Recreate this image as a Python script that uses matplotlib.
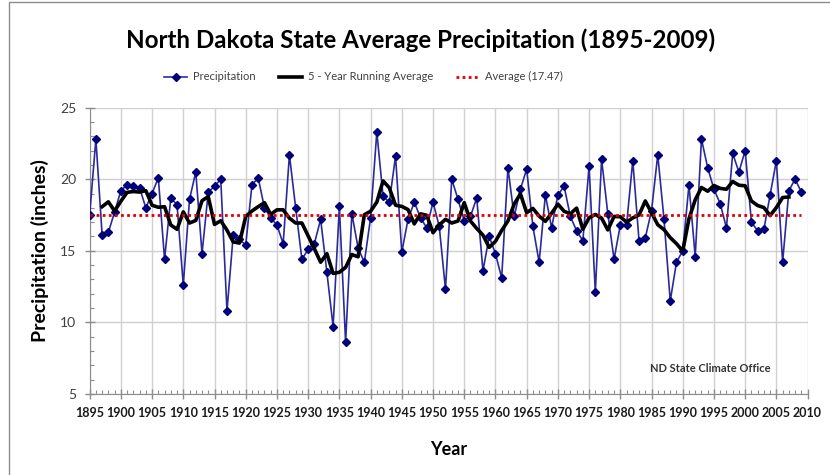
import numpy as np
import pandas as pd
import matplotlib
matplotlib.use('Agg')
import matplotlib.pyplot as plt
from matplotlib.ticker import MultipleLocator
from matplotlib.patches import Rectangle

plt.rcParams['font.family'] = ['Lato', 'DejaVu Sans']

# Annual precipitation (inches)
years = list(range(1895, 2010))
precip = [
    17.5, 22.8, 16.1, 16.3, 17.7, 19.2, 19.6, 19.5, 19.4, 18.0,   # 1895-1904
    19.0, 20.1, 14.4, 18.7, 18.2, 12.6, 18.6, 20.5, 14.8, 19.1,   # 1905-1914
    19.5, 20.0, 10.8, 16.1, 15.8, 15.4, 19.6, 20.1, 18.0, 17.3,   # 1915-1924
    16.8, 15.5, 21.7, 18.0, 14.4, 15.1, 15.5, 17.2, 13.5, 9.7,    # 1925-1934
    18.1, 8.6, 17.6, 15.2, 14.2, 17.3, 23.3, 18.8, 18.4, 21.6,    # 1935-1944
    14.9, 17.2, 18.4, 17.3, 16.6, 18.4, 16.7, 12.3, 20.0, 18.6,   # 1945-1954
    17.1, 17.4, 18.7, 13.6, 16.0, 14.8, 13.1, 20.8, 17.4, 19.3,   # 1955-1964
    20.7, 16.7, 14.2, 18.9, 16.6, 18.9, 19.5, 17.4, 16.4, 15.7,   # 1965-1974
    20.9, 12.1, 21.4, 17.6, 14.4, 16.8, 16.8, 21.3, 15.7, 15.9,   # 1975-1984
    17.8, 21.7, 17.2, 11.5, 14.2, 15.0, 19.6, 14.6, 22.8, 20.8,   # 1985-1994
    19.3, 18.3, 16.6, 21.8, 20.5, 22.0, 17.0, 16.4, 16.5, 18.9,   # 1995-2004
    21.3, 14.2, 19.2, 20.0, 19.1,                                 # 2005-2009
]
long_term_avg = 17.47
x_ticks = list(range(1895, 2011, 5))

# 5-year centered running average of the series
running_avg = pd.Series(precip).rolling(5, center=True).mean()

fig = plt.figure(figsize=(8.3, 4.75), dpi=100)
ax = fig.add_axes([0.108, 0.1705, 0.865, 0.603])

ax.plot(years, precip, color='#2a2a9a', lw=1.2, marker='D', markersize=4,
        markerfacecolor='#00007a', markeredgecolor='#00007a',
        label='Precipitation', zorder=3)
ax.plot(years, running_avg, color='black', lw=2.6,
        label='5 - Year Running Average', zorder=4)
ax.plot([years[0], years[-1]], [long_term_avg, long_term_avg], color='#e00000',
        lw=2, linestyle=(0, (1, 1.2)), label='Average (17.47)', zorder=5)

ax.set_xlim(1895, 2010)
ax.set_ylim(5, 25)
ax.set_xticks(x_ticks)
ax.xaxis.set_minor_locator(MultipleLocator(1))
ax.yaxis.set_major_locator(MultipleLocator(5))
ax.yaxis.set_minor_locator(MultipleLocator(1))
ax.grid(True, which='major', color='#d0d0d0', lw=1)
ax.set_axisbelow(True)

for s in ['top', 'right']:
    ax.spines[s].set_visible(False)
for s in ['left', 'bottom']:
    ax.spines[s].set_color('#8c8c8c')

ax.tick_params(axis='both', which='major', direction='inout', length=7,
               color='#8c8c8c', width=1)
ax.tick_params(axis='both', which='minor', direction='in', length=3,
               color='#8c8c8c', width=0.8)
ax.tick_params(axis='x', labelsize=9, pad=6, labelcolor='#1a1a1a')
ax.tick_params(axis='y', labelsize=10, pad=6, labelcolor='#404040')
for lab in ax.get_xticklabels():
    lab.set_fontweight('bold')

ax.set_xlabel('Year', fontsize=13, fontweight='bold', labelpad=16)
ax.set_ylabel('Precipitation (inches)', fontsize=14, fontweight='bold', labelpad=8)

ax.text(1984.8, 6.8, 'ND State Climate Office', fontsize=8, fontweight='bold',
        color='#333333', va='center', ha='left')

fig.text(0.507, 0.915, 'North Dakota State Average Precipitation (1895-2009)',
         fontsize=17.4, fontweight='bold', ha='center', va='center')

fig.legend(loc='center', bbox_to_anchor=(0.438, 0.838), ncol=3, frameon=False,
           fontsize=8, handlelength=2.1, columnspacing=2.1, handletextpad=0.5,
           labelcolor='#404040')

# chart-area border
fig.patches.append(Rectangle((9 / 830, -0.02), 1.2, 1.015, transform=fig.transFigure,
                             fill=False, edgecolor='#8c8c8c', lw=1))

plt.savefig('out.png', dpi=100)
